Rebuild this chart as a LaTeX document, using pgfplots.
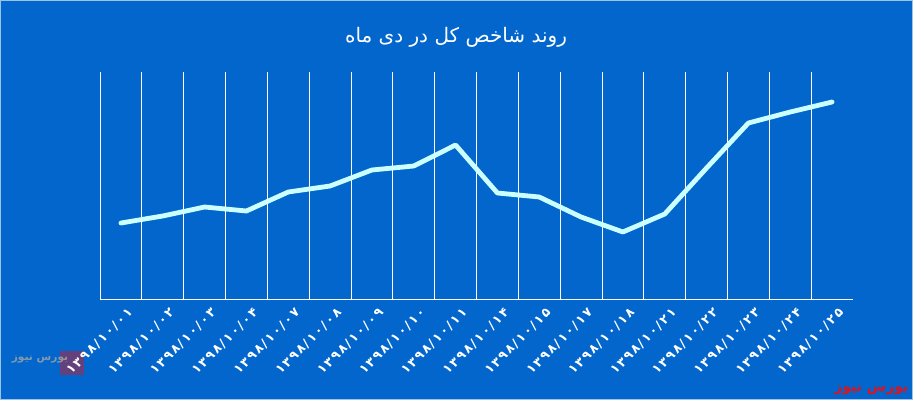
\documentclass[border=0pt]{standalone}
\usepackage{fontspec}
\usepackage{pgfplots}
\pgfplotsset{compat=1.18}
\TeXXeTstate=1
\newfontfamily\arabicfont[Script=Arabic]{DejaVu Sans}
\newfontfamily\labelfont[Script=Arabic,LetterSpace=14]{DejaVu Sans}
\definecolor{bgblue}{RGB}{2,102,204}
\definecolor{linecyan}{RGB}{204,255,255}
\definecolor{newsred}{RGB}{220,20,30}

\begin{document}
\begin{tikzpicture}[x=0.75pt,y=0.75pt]
  \fill[bgblue] (0,0) rectangle (913,400);
  \draw[white!60!bgblue, line width=0.75pt] (0.5,0.5) rectangle (912.5,399.5);
  \useasboundingbox (0,0) rectangle (913,400);
  \node[text=white, font=\arabicfont\fontsize{15}{17}\selectfont] at (456,363)
    {\beginR روند شاخص کل در دی ماه\endR};
  % watermarks
  \fill[newsred, opacity=0.45] (60,25) rectangle (84,49);
  \node[text=gray!70, opacity=0.8, font=\arabicfont\bfseries\fontsize{8}{10}\selectfont] at (40,41)
    {\beginR بورس نیوز\endR};
  \node[text=newsred, font=\arabicfont\bfseries\fontsize{10.5}{12}\selectfont, anchor=south east, inner sep=1pt] at (910,3)
    {\beginR بورس نیوز\endR};
  \begin{axis}[
      at={(75pt,75.75pt)}, anchor=south west,
      scale only axis, width=564.75pt, height=170.25pt,
      xmin=-0.5, xmax=17.5, ymin=0, ymax=227,
      axis x line=bottom, axis y line=none,
      axis line style={white, line width=0.6pt, -},
      xtick=data, major tick length=0pt,
      minor xtick={-0.5,0.5,...,16.5},
      minor tick length=0pt,
      xminorgrids, minor grid style={white, line width=0.6pt},
      ytick=\empty,
      xticklabels={۱۳۹۸/۱۰/۰۱,۱۳۹۸/۱۰/۰۲,۱۳۹۸/۱۰/۰۳,۱۳۹۸/۱۰/۰۴,۱۳۹۸/۱۰/۰۷,۱۳۹۸/۱۰/۰۸,۱۳۹۸/۱۰/۰۹,۱۳۹۸/۱۰/۱۰,۱۳۹۸/۱۰/۱۱,۱۳۹۸/۱۰/۱۴,۱۳۹۸/۱۰/۱۵,۱۳۹۸/۱۰/۱۷,۱۳۹۸/۱۰/۱۸,۱۳۹۸/۱۰/۲۱,۱۳۹۸/۱۰/۲۲,۱۳۹۸/۱۰/۲۳,۱۳۹۸/۱۰/۲۴,۱۳۹۸/۱۰/۲۵},
      xticklabel style={rotate=45, anchor=east, text=white, inner sep=0pt,
        font=\labelfont\bfseries\fontsize{9.5}{11}\selectfont, yshift=-11pt, xshift=-1pt},
      clip=false,
    ]
    \addplot[linecyan, line width=3.6pt, line join=round, line cap=round] coordinates {
      (0,76) (1,83) (2,92) (3,88) (4,107) (5,113) (6,129) (7,133) (8,154)
      (9,106) (10,102) (11,82) (12,67) (13,85) (14,131) (15,176) (16,187) (17,197)
    };
  \end{axis}
\end{tikzpicture}
\end{document}
